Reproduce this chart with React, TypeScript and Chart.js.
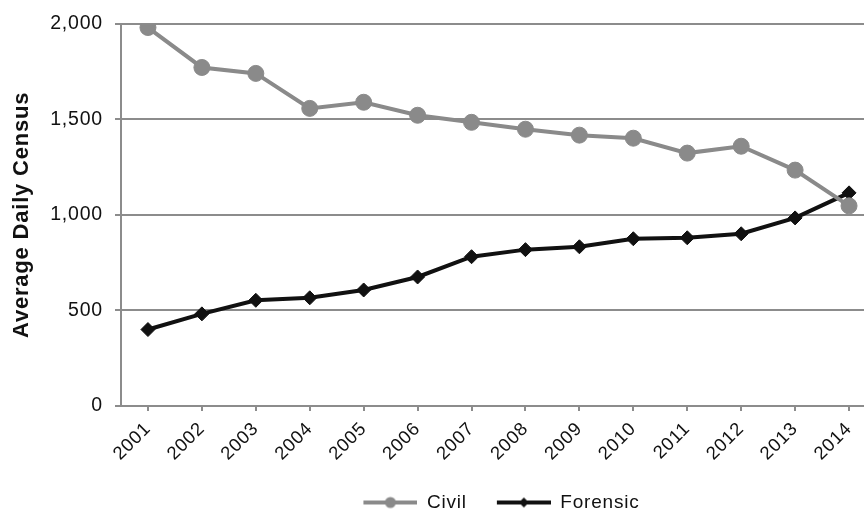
import React, { useEffect, useRef } from "react";
import { Chart, registerables } from "chart.js";

Chart.register(...registerables);

const years = ["2001","2002","2003","2004","2005","2006","2007","2008","2009","2010","2011","2012","2013","2014"];
const civil = [1980, 1771, 1740, 1557, 1589, 1521, 1484, 1448, 1417, 1401, 1323, 1359, 1234, 1047];
const forensic = [400, 482, 553, 566, 607, 675, 781, 818, 833, 875, 880, 901, 984, 1115];
const yTicks = [0, 500, 1000, 1500, 2000];

const CIVIL_COLOR = "#8a8a8a";
const FORENSIC_COLOR = "#111111";
const GRID = "#8c8c8c";
const FONT = "'Liberation Sans', Arial, sans-serif";
const SPACING = "0.8px";
const ICON_W = 80;
const ICON_BLANK = 26;
const LEGEND_SHIFT = 48;

function legendIcon(kind: "circle" | "diamond", color: string): HTMLCanvasElement {
  const c = document.createElement("canvas");
  c.width = ICON_W;
  c.height = 16;
  const ctx = c.getContext("2d")!;
  ctx.strokeStyle = color;
  ctx.fillStyle = color;
  ctx.lineWidth = 4;
  ctx.beginPath();
  ctx.moveTo(ICON_BLANK, 8);
  ctx.lineTo(ICON_W, 8);
  ctx.stroke();
  const cx = ICON_BLANK + (ICON_W - ICON_BLANK) / 2;
  ctx.beginPath();
  if (kind === "circle") {
    ctx.arc(cx, 8, 5.5, 0, Math.PI * 2);
  } else {
    ctx.moveTo(cx, 3);
    ctx.lineTo(cx + 5, 8);
    ctx.lineTo(cx, 13);
    ctx.lineTo(cx - 5, 8);
    ctx.closePath();
  }
  ctx.fill();
  return c;
}

const spacingPlugin = {
  id: "letterSpacing",
  beforeUpdate(chart: any) {
    chart.ctx.letterSpacing = SPACING;
  },
  afterLayout(chart: any) {
    const lg = chart.legend;
    if (lg) {
      lg.left += LEGEND_SHIFT;
      lg.right += LEGEND_SHIFT;
    }
  },
  beforeDraw(chart: any) {
    chart.ctx.letterSpacing = SPACING;
  },
};

export default function App() {
  const ref = useRef<HTMLCanvasElement | null>(null);

  useEffect(() => {
    if (!ref.current) return;
    const icons = [legendIcon("circle", CIVIL_COLOR), legendIcon("diamond", FORENSIC_COLOR)];
    const chart = new Chart(ref.current, {
      type: "line",
      plugins: [spacingPlugin],
      data: {
        labels: years,
        datasets: [
          {
            label: "Civil",
            data: civil,
            borderColor: CIVIL_COLOR,
            backgroundColor: CIVIL_COLOR,
            borderWidth: 4,
            pointStyle: "circle",
            pointRadius: 8,
            pointBorderWidth: 1,
            tension: 0,
          },
          {
            label: "Forensic",
            data: forensic,
            borderColor: FORENSIC_COLOR,
            backgroundColor: FORENSIC_COLOR,
            borderWidth: 4,
            pointStyle: "rectRot",
            pointRadius: 7,
            pointBorderWidth: 1,
            tension: 0,
          },
        ],
      },
      options: {
        animation: false,
        responsive: false,
        devicePixelRatio: 1,
        layout: { padding: { top: 10.5, right: 4, left: 0, bottom: 0 } },
        plugins: {
          tooltip: { enabled: false },
          legend: {
            position: "bottom",
            labels: {
              usePointStyle: true,
              pointStyleWidth: ICON_W,
              color: "#111",
              font: { family: FONT, size: 19 },
              padding: 4,
              generateLabels: (ch: any) => {
                const base = Chart.defaults.plugins.legend.labels.generateLabels(ch);
                return base.map((l: any, i: number) => ({ ...l, pointStyle: icons[i] }));
              },
            },
          },
        },
        scales: {
          x: {
            type: "category",
            offset: true,
            afterFit: (s: any) => {
              s.height = 83;
            },
            border: { color: GRID, width: 2 },
            grid: {
              offset: false,
              drawOnChartArea: false,
              drawTicks: true,
              tickLength: 5,
              color: GRID,
              lineWidth: 2,
            },
            ticks: {
              maxRotation: 45,
              minRotation: 45,
              color: "#111",
              font: { family: FONT, size: 18.5 },
              padding: 7,
            },
          },
          y: {
            min: 0,
            max: 2000,
            afterBuildTicks: (s: any) => {
              s.ticks = yTicks.map((v) => ({ value: v }));
            },
            afterFit: (s: any) => {
              s.width = 121;
            },
            border: { color: GRID, width: 2 },
            grid: { color: GRID, lineWidth: 2, tickLength: 6 },
            ticks: {
              color: "#111",
              font: { family: FONT, size: 19.5 },
              padding: 12,
              callback: (v: any) => Number(v).toLocaleString("en-US"),
            },
            title: {
              display: true,
              text: "Average Daily Census",
              color: "#111",
              font: { family: FONT, size: 22, weight: "bold" },
              padding: { top: 9, bottom: 0 },
            },
          },
        },
      },
    });
    return () => chart.destroy();
  }, []);

  return (
    <div style={{ position: "absolute", left: 0, top: 0, width: 864, height: 512, overflow: "hidden", background: "#fff" }}>
      <canvas ref={ref} width={885} height={522} style={{ display: "block" }} />
    </div>
  );
}
